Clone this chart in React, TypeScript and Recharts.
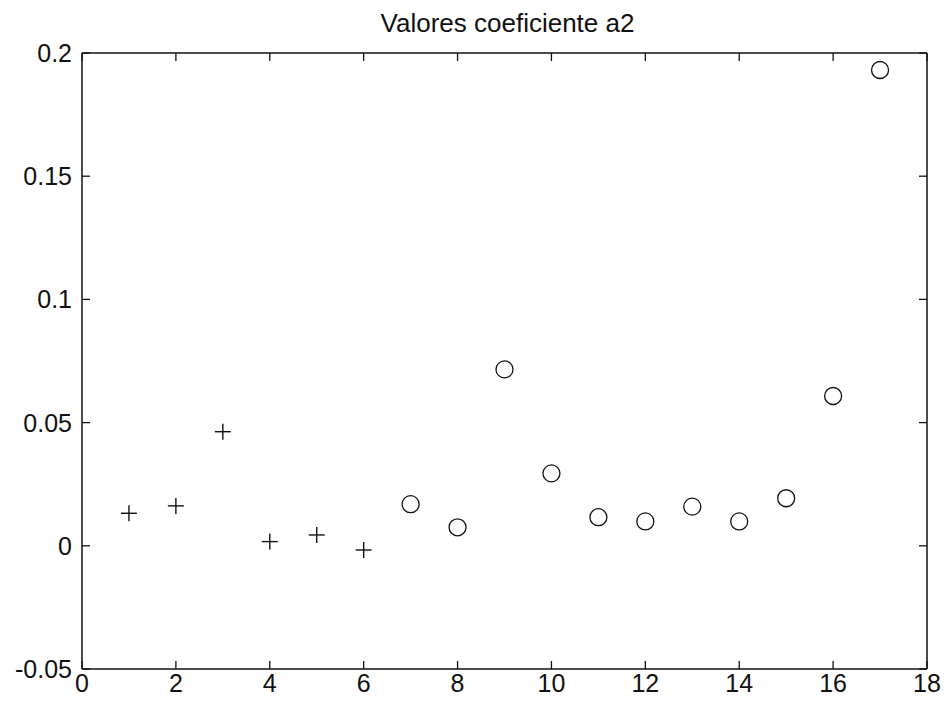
import React from 'react';
import { ScatterChart, Scatter, XAxis, YAxis } from 'recharts';

const plusX = [1, 2, 3, 4, 5, 6];
const plusY = [0.0132, 0.0162, 0.0463, 0.0017, 0.0044, -0.0017];
const circleX = [7, 8, 9, 10, 11, 12, 13, 14, 15, 16, 17];
const circleY = [0.0169, 0.0075, 0.0716, 0.0294, 0.0116, 0.0099, 0.0159, 0.0099, 0.0193, 0.0608, 0.1931];
const xTicks = [0, 2, 4, 6, 8, 10, 12, 14, 16, 18];
const yTicks = [-0.05, 0, 0.05, 0.1, 0.15, 0.2];
const title = 'Valores coeficiente a2';

const FONT = '"Liberation Sans", Arial, sans-serif';
const INK = '#111';

const plusData = plusX.map((x, i) => ({ x, y: plusY[i] }));
const circleData = circleX.map((x, i) => ({ x, y: circleY[i] }));

// matlab style: ticks point into the box
const BottomTick = ({ x, y, payload }: any) => (
    <g>
        <line x1={x} y1={y} x2={x} y2={y - 8} stroke={INK} strokeWidth={1.3} />
        <text x={x} y={y + 23} textAnchor="middle" fontFamily={FONT} fontSize={25} fill={INK}>
            {payload.value}
        </text>
    </g>
);

const LeftTick = ({ x, y, payload }: any) => (
    <g>
        <line x1={x} y1={y} x2={x + 8} y2={y} stroke={INK} strokeWidth={1.3} />
        <text x={x - 10} y={y + 9} textAnchor="end" fontFamily={FONT} fontSize={25} fill={INK}>
            {payload.value}
        </text>
    </g>
);

const TopTick = ({ x, y }: any) => (
    <line x1={x} y1={y} x2={x} y2={y + 8} stroke={INK} strokeWidth={1.3} />
);

const RightTick = ({ x, y }: any) => (
    <line x1={x} y1={y} x2={x - 8} y2={y} stroke={INK} strokeWidth={1.3} />
);

const PlusMark = ({ cx, cy }: any) => (
    <g stroke={INK} strokeWidth={1.4}>
        <line x1={cx - 8} y1={cy} x2={cx + 8} y2={cy} />
        <line x1={cx} y1={cy - 8} x2={cx} y2={cy + 8} />
    </g>
);

const CircleMark = ({ cx, cy }: any) => (
    <circle cx={cx} cy={cy} r={8.5} fill="none" stroke={INK} strokeWidth={1.3} />
);

export default function App() {
    return (
        <div style={{ position: 'absolute', left: 0, top: 0, width: 947, height: 708, background: '#fff' }}>
            <div
                style={{
                    position: 'absolute',
                    left: 85,
                    top: 10,
                    width: 845,
                    textAlign: 'center',
                    fontFamily: FONT,
                    fontSize: 26,
                    lineHeight: '26px',
                    color: INK,
                }}
            >
                {title}
            </div>
            <ScatterChart width={947} height={708} margin={{ top: 52, right: 19, bottom: 0, left: 0 }}>
                <XAxis
                    xAxisId="bottom"
                    dataKey="x"
                    type="number"
                    domain={[0, 18]}
                    ticks={xTicks}
                    interval={0}
                    height={39}
                    tickSize={0}
                    tickMargin={0}
                    tickLine={false}
                    axisLine={{ stroke: INK, strokeWidth: 1.5 }}
                    tick={<BottomTick />}
                />
                <XAxis
                    xAxisId="top"
                    orientation="top"
                    dataKey="x"
                    type="number"
                    domain={[0, 18]}
                    ticks={xTicks}
                    interval={0}
                    height={1}
                    tickSize={0}
                    tickMargin={0}
                    tickLine={false}
                    axisLine={{ stroke: INK, strokeWidth: 1.5 }}
                    tick={<TopTick />}
                />
                <YAxis
                    yAxisId="left"
                    dataKey="y"
                    type="number"
                    domain={[-0.05, 0.2]}
                    ticks={yTicks}
                    interval={0}
                    width={82}
                    tickSize={0}
                    tickMargin={0}
                    tickLine={false}
                    axisLine={{ stroke: INK, strokeWidth: 1.5 }}
                    tick={<LeftTick />}
                />
                <YAxis
                    yAxisId="right"
                    orientation="right"
                    dataKey="y"
                    type="number"
                    domain={[-0.05, 0.2]}
                    ticks={yTicks}
                    interval={0}
                    width={1}
                    tickSize={0}
                    tickMargin={0}
                    tickLine={false}
                    axisLine={{ stroke: INK, strokeWidth: 1.5 }}
                    tick={<RightTick />}
                />
                <Scatter
                    xAxisId="bottom"
                    yAxisId="left"
                    data={plusData}
                    shape={<PlusMark />}
                    isAnimationActive={false}
                />
                <Scatter
                    xAxisId="top"
                    yAxisId="right"
                    data={circleData}
                    shape={<CircleMark />}
                    isAnimationActive={false}
                />
            </ScatterChart>
        </div>
    );
}
